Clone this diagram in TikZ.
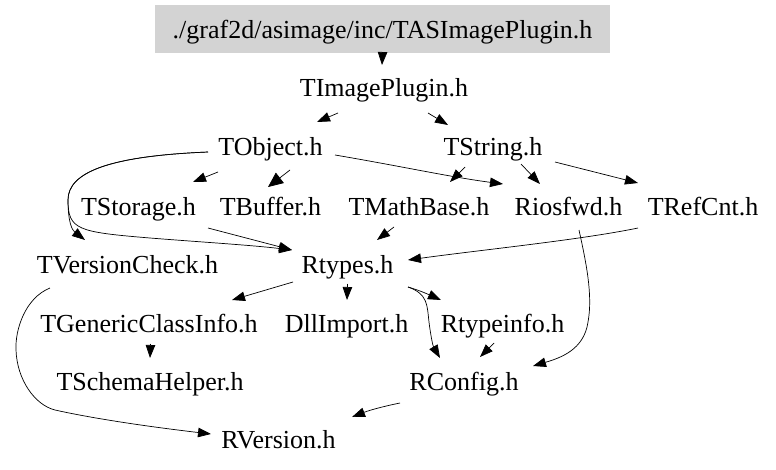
\documentclass[tikz,border=0pt]{standalone}
\usepackage{fontspec}
\setmainfont{Liberation Serif}[Ligatures=TeX]
\usetikzlibrary{arrows.meta,calc}
\tikzset{
  lbl/.style={font=\rmfamily\fontsize{26}{30}\selectfont, inner sep=0pt, text height=18pt, text depth=6pt},
  topbox/.style={font=\rmfamily\fontsize{26}{30}\selectfont, fill={rgb,255:red,211;green,211;blue,211}, inner sep=0pt,
     minimum width=455pt, minimum height=48pt, text height=20pt, text depth=2pt},
  arr/.style={line width=0.7pt, -{Triangle[length=13pt,width=9.5pt]}},
  barr/.style={line width=0.7pt, -{Triangle[length=15pt,width=13pt]}}
}
\begin{document}
\begin{tikzpicture}[x=1pt,y=-1pt]
\useasboundingbox (0,0) rectangle (776,469);
\node[topbox] (top) at (382.5,29) {./graf2d/asimage/inc/TASImagePlugin.h};
\node[lbl] (timg) at (384,90) {TImagePlugin.h};
\node[lbl] (tobj) at (270.5,149) {TObject.h};
\node[lbl] (tstr) at (493,149) {TString.h};
\node[lbl] (tstor) at (138.5,209) {TStorage.h};
\node[lbl] (tbuf) at (270.5,209) {TBuffer.h};
\node[lbl] (tmath) at (419,209) {TMathBase.h};
\node[lbl] (rios) at (568.5,209) {Riosfwd.h};
\node[lbl] (tref) at (703,209) {TRefCnt.h};
\node[lbl] (tver) at (127.5,267) {TVersionCheck.h};
\node[lbl] (rtyp) at (347.5,267) {Rtypes.h};
\node[lbl] (tgen) at (149,326) {TGenericClassInfo.h};
\node[lbl] (dll) at (346.5,326) {DllImport.h};
\node[lbl] (rtinfo) at (502.5,326) {Rtypeinfo.h};
\node[lbl] (tsch) at (150,384) {TSchemaHelper.h};
\node[lbl] (rconf) at (464,384) {RConfig.h};
\node[lbl] (rver) at (278.5,442) {RVersion.h};

% top -> TImagePlugin
\draw[arr] (top.south) -- ($(timg)+(-2,-25)$);
% TImagePlugin -> TObject / TString
\draw[arr] ($(timg)+(-46,23)$) -- ($(tobj)+(46.5,-27)$);
\draw[arr] ($(timg)+(44,23)$) -- ($(tstr)+(-45,-24)$);
% TObject -> TStorage
\draw[arr] ($(tobj)+(-52.5,23)$) -- ($(tstor)+(54.5,-27)$);
% TObject -> TBuffer
\draw[barr] ($(tobj)+(19.5,21)$) -- ($(tbuf)+(-2.5,-22)$);
% TObject -> TVersionCheck
\draw[arr] ($(tobj)+(-62.5,3)$) .. controls (110,156) and (68,172) .. (68,200)
   .. controls (68,222) and (72,230) .. ($(tver)+(-42.5,-27)$);
% TObject -> Rtypes
\draw[arr] ($(tobj)+(-62.5,3)$) .. controls (110,156) and (68,172) .. (68,200)
   .. controls (68,230) and (78,232) .. (150,238) .. controls (200,242) and (250,245) .. ($(rtyp)+(-55.5,-17)$);
% TStorage -> Rtypes
\draw[arr] ($(tstor)+(69.5,19)$) -- ($(rtyp)+(-55.5,-17)$);
% TObject -> Riosfwd
\draw[arr] ($(tobj)+(64.5,6)$) .. controls (400,166) and (450,177) .. ($(rios)+(-65.5,-25)$);
% TString -> TMathBase / Riosfwd / TRefCnt
\draw[arr] ($(tstr)+(-28,18)$) -- ($(tmath)+(31,-27)$);
\draw[arr] ($(tstr)+(28,15)$) -- ($(rios)+(-28.5,-25)$);
\draw[arr] ($(tstr)+(62,13)$) -- ($(tref)+(-65,-26)$);
% TMathBase -> Rtypes
\draw[arr] ($(tmath)+(-25,18)$) -- ($(rtyp)+(29.5,-27)$);
% TRefCnt -> Rtypes
\draw[arr] ($(tref)+(-65,19)$) .. controls (580,240) and (480,250) .. ($(rtyp)+(60.5,-7)$);
% Riosfwd -> RConfig
\draw[arr] ($(rios)+(10.5,21)$) .. controls (586,262) and (593,295) .. (588,322)
   .. controls (584,350) and (560,358) .. ($(rconf)+(69,-18)$);
% Rtypes -> TGenericClassInfo / DllImport / Rtypeinfo / RConfig
\draw[arr] ($(rtyp)+(-54.5,15)$) -- ($(tgen)+(83,-26)$);
\draw[arr] ($(rtyp)+(0,17)$) -- ($(dll)+(0.5,-26)$);
\draw[arr] ($(rtyp)+(60.5,20)$) .. controls (415,289) and (423,292) .. ($(rtinfo)+(-61.5,-26)$);
\draw[arr] ($(rtyp)+(60.5,20)$) .. controls (428,294) and (427,305) .. (429,322)
   .. controls (431,338) and (433,346) .. ($(rconf)+(-24,-26)$);
% Rtypeinfo -> RConfig
\draw[arr] ($(rtinfo)+(-8.5,17)$) -- ($(rconf)+(16,-27)$);
% TGenericClassInfo -> TSchemaHelper
\draw[arr] ($(tgen)+(1.5,18)$) -- ($(tsch)+(0,-26)$);
% TVersionCheck -> RVersion
\draw[arr] ($(tver)+(-77.5,21)$) .. controls (25,298) and (15,330) .. (16,350)
   .. controls (17,380) and (35,405) .. (55,410) .. controls (100,420) and (160,428) .. ($(rver)+(-67.5,-8)$);
% RConfig -> RVersion
\draw[arr] ($(rconf)+(-64,19)$) .. controls (385,406) and (370,410) .. ($(rver)+(73.5,-25)$);
\end{tikzpicture}
\end{document}
